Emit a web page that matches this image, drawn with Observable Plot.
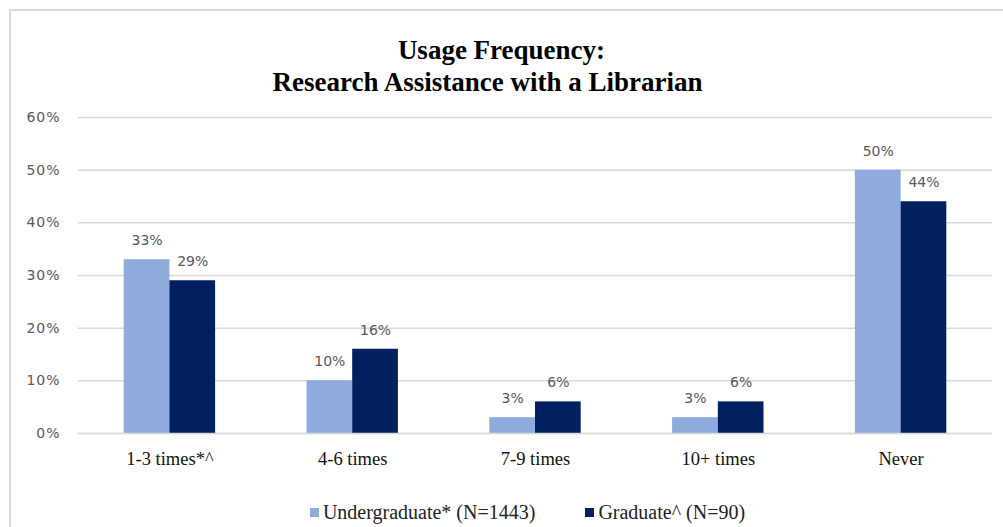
<!DOCTYPE html>
<html>
<head>
<meta charset="utf-8">
<script src="https://cdn.jsdelivr.net/npm/d3@7"></script>
<script src="https://cdn.jsdelivr.net/npm/@observablehq/plot@0.6"></script>
<style>
  html, body { margin:0; padding:0; background:#fff; overflow:hidden; }
  #wrap { position:relative; width:1003px; height:527px; overflow:hidden; background:#fff; }
  #frame { position:absolute; left:9px; top:9px; width:1200px; height:800px; border:2px solid #d9d9d9; box-sizing:border-box; }
  .tline { position:absolute; left:0; width:1003px; text-align:center; font-family:"Liberation Serif", serif; font-weight:bold; font-size:27px; line-height:32px; color:#000; white-space:nowrap; }
  #t1 { top:34px; }
  #t2 { top:66px; left:-14px; }
  #chart { position:absolute; left:0; top:100px; }
  #legend { position:absolute; left:26px; width:1003px; top:499px; text-align:center; font-family:"Liberation Serif", serif; font-size:20px; color:#222; white-space:nowrap; }
  .item { display:inline-flex; align-items:center; margin:0 25px; }
  .sw { display:inline-block; width:9px; height:9px; margin-right:4px; }
  #chart svg g[aria-label^="x-axis"] text { font-family:"Liberation Serif", serif; font-size:18.5px; fill:#111; }
  #chart svg g[aria-label^="y-axis"] text { font-family:"DejaVu Sans", sans-serif; font-size:14px; letter-spacing:1px; fill:#595959; }
</style>
</head>
<body>
<div id="wrap">
  <div id="frame"></div>
  <div class="tline" id="t1">Usage Frequency:</div>
  <div class="tline" id="t2">Research Assistance with a Librarian</div>
  <div id="chart"></div>
  <div id="legend"></div>
</div>
<script>
const categories = ["1-3 times*^", "4-6 times", "7-9 times", "10+ times", "Never"];
const seriesNames = ["Undergraduate* (N=1443)", "Graduate^ (N=90)"];
const undergraduate = [33, 10, 3, 3, 50];
const graduate = [29, 16, 6, 6, 44];
const yTicks = [0, 10, 20, 30, 40, 50, 60];
const colors = ["#8FAADC", "#002060"];

const underRows = categories.map((c, i) => ({category: c, series: seriesNames[0], value: undergraduate[i]}));
const gradRows = categories.map((c, i) => ({category: c, series: seriesNames[1], value: graduate[i]}));

const W = 1003, H = 380, ML = 78, MR = 11, MT = 17, MB = 47;
const padIn = 0.5, padOut = 0.25;
const step = (W - ML - MR) / (categories.length - padIn + 2 * padOut);
const bw = step * (1 - padIn);
const half = bw / 2;

const labelStyle = {fontFamily: "DejaVu Sans, sans-serif", fontSize: 14, letterSpacing: 1, fill: "#595959", dy: -19};

const chart = Plot.plot({
  width: W, height: H,
  marginLeft: ML, marginRight: MR, marginTop: MT, marginBottom: MB,
  style: {background: "transparent", overflow: "visible"},
  x: {domain: categories, paddingInner: padIn, paddingOuter: padOut, round: false, tickSize: 0, tickPadding: 18, label: null},
  y: {domain: [0, 60], ticks: yTicks, tickFormat: d => d + "%", tickSize: 0, tickPadding: 18, label: null},
  marks: [
    Plot.ruleY(yTicks, {stroke: "#d9d9d9", strokeWidth: 1.5}),
    Plot.barY(underRows, {x: "category", y: "value", fill: colors[0], insetRight: half}),
    Plot.barY(gradRows, {x: "category", y: "value", fill: colors[1], insetLeft: half}),
    Plot.ruleY([0], {stroke: "#d9d9d9", strokeWidth: 1.5}),
    Plot.text(underRows, {x: "category", y: "value", text: d => d.value + "%", dx: -half / 2, ...labelStyle}),
    Plot.text(gradRows, {x: "category", y: "value", text: d => d.value + "%", dx: half / 2, ...labelStyle})
  ]
});
document.getElementById("chart").appendChild(chart);

const legend = document.getElementById("legend");
seriesNames.forEach((name, i) => {
  const item = document.createElement("span");
  item.className = "item";
  const sw = document.createElement("span");
  sw.className = "sw";
  sw.style.background = colors[i];
  item.appendChild(sw);
  item.appendChild(document.createTextNode(name));
  legend.appendChild(item);
});
</script>
</body>
</html>
